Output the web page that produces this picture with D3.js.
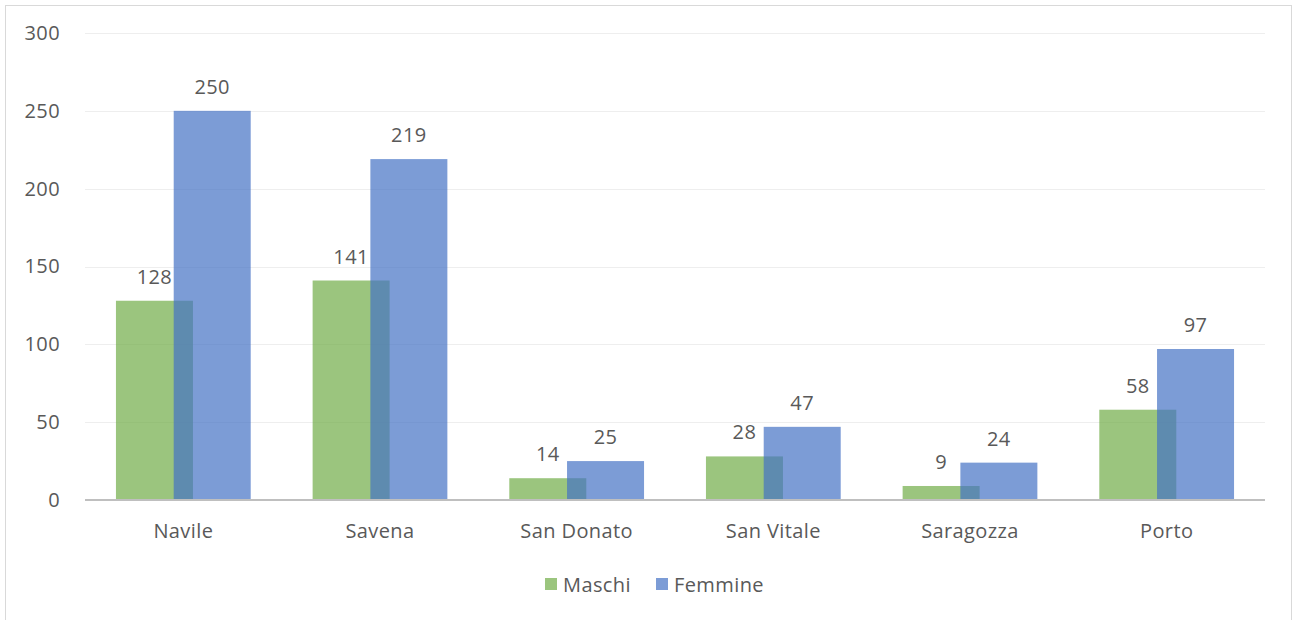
<!DOCTYPE html>
<html><head><meta charset="utf-8">
<script src="https://cdn.jsdelivr.net/npm/d3@7"></script>
<style>html,body{margin:0;padding:0;background:#fff;}svg{display:block;}</style>
</head><body>
<svg id="c" width="1293" height="620"></svg>
<script>
const categories = ["Navile","Savena","San Donato","San Vitale","Saragozza","Porto"];
const maschi = [128,141,14,28,9,58];
const femmine = [250,219,25,47,24,97];
const yTicks = [0,50,100,150,200,250,300];
const seriesNames = ["Maschi","Femmine"];
const colors = ["#70AD47","#4472C4"];

(function(){
const svg = d3.select("#c");
const font = "'Open Sans', 'Liberation Sans', sans-serif";
const textColor = "#595959";
const fs = 20, ls = 0.4;

svg.append("rect").attr("x",5.5).attr("y",5.5).attr("width",1286).attr("height",630)
  .attr("fill","#fff").attr("stroke","#d9d9d9").attr("stroke-width",1);

const pLeft = 85, pRight = 1265, pTop = 33, pBottom = 500;
const x = d3.scaleBand().domain(categories).range([pLeft,pRight]).padding(0);
const y = d3.scaleLinear().domain([0,300]).range([pBottom,pTop]);

svg.append("g").selectAll("line").data(yTicks.filter(t=>t>0)).join("line")
  .attr("x1",pLeft).attr("x2",pRight).attr("y1",d=>Math.round(y(d))+0.5).attr("y2",d=>Math.round(y(d))+0.5)
  .attr("stroke","#eeeeee").attr("stroke-width",1);

const yAxis = d3.axisLeft(y).tickValues(yTicks).tickSize(0).tickPadding(0);
const ga = svg.append("g").attr("transform",`translate(60,0)`).call(yAxis);
ga.select(".domain").remove();
ga.selectAll("text").attr("font-family",font).attr("font-size",fs).attr("letter-spacing",ls).attr("fill",textColor);

const bw = 77, offset = 0.75*bw, groupW = bw + offset;
const data = categories.map((c,i)=>({c, m:maschi[i], f:femmine[i]}));
const gx = d => x(d.c) + x.bandwidth()/2 - groupW/2;

svg.append("g").selectAll("rect").data(data).join("rect")
  .attr("x",d=>gx(d)).attr("width",bw)
  .attr("y",d=>y(d.m)).attr("height",d=>y(0)-y(d.m))
  .attr("fill",colors[0]).attr("fill-opacity",0.7);
svg.append("g").selectAll("rect").data(data).join("rect")
  .attr("x",d=>gx(d)+offset).attr("width",bw)
  .attr("y",d=>y(d.f)).attr("height",d=>y(0)-y(d.f))
  .attr("fill",colors[1]).attr("fill-opacity",0.7);

const lbl = svg.append("g").attr("font-family",font).attr("font-size",fs).attr("letter-spacing",ls).attr("fill",textColor).attr("text-anchor","middle");
lbl.selectAll("text.m").data(data).join("text").attr("class","m")
  .attr("x",d=>gx(d)+bw/2).attr("y",d=>y(d.m)-17).text(d=>d.m);
lbl.selectAll("text.f").data(data).join("text").attr("class","f")
  .attr("x",d=>gx(d)+offset+bw/2).attr("y",d=>y(d.f)-17).text(d=>d.f);

const xAxis = d3.axisBottom(x).tickSize(0).tickPadding(24);
const gxA = svg.append("g").attr("transform",`translate(0,${pBottom})`).call(xAxis);
gxA.select(".domain").attr("stroke","#bfbfbf").attr("stroke-width",2).attr("d",`M${pLeft},0H${pRight}`);
gxA.selectAll("text").attr("font-family",font).attr("font-size",fs).attr("letter-spacing",ls).attr("fill",textColor);

const leg = svg.append("g");
const legItems = [{n:seriesNames[0],c:colors[0],x:545},{n:seriesNames[1],c:colors[1],x:656}];
legItems.forEach(it=>{
  leg.append("rect").attr("x",it.x).attr("y",578).attr("width",12).attr("height",12).attr("fill",it.c).attr("fill-opacity",0.7);
  leg.append("text").attr("x",it.x+18).attr("y",592).attr("font-family",font).attr("font-size",fs).attr("letter-spacing",ls).attr("fill",textColor).text(it.n);
});
})();
</script>
</body></html>
